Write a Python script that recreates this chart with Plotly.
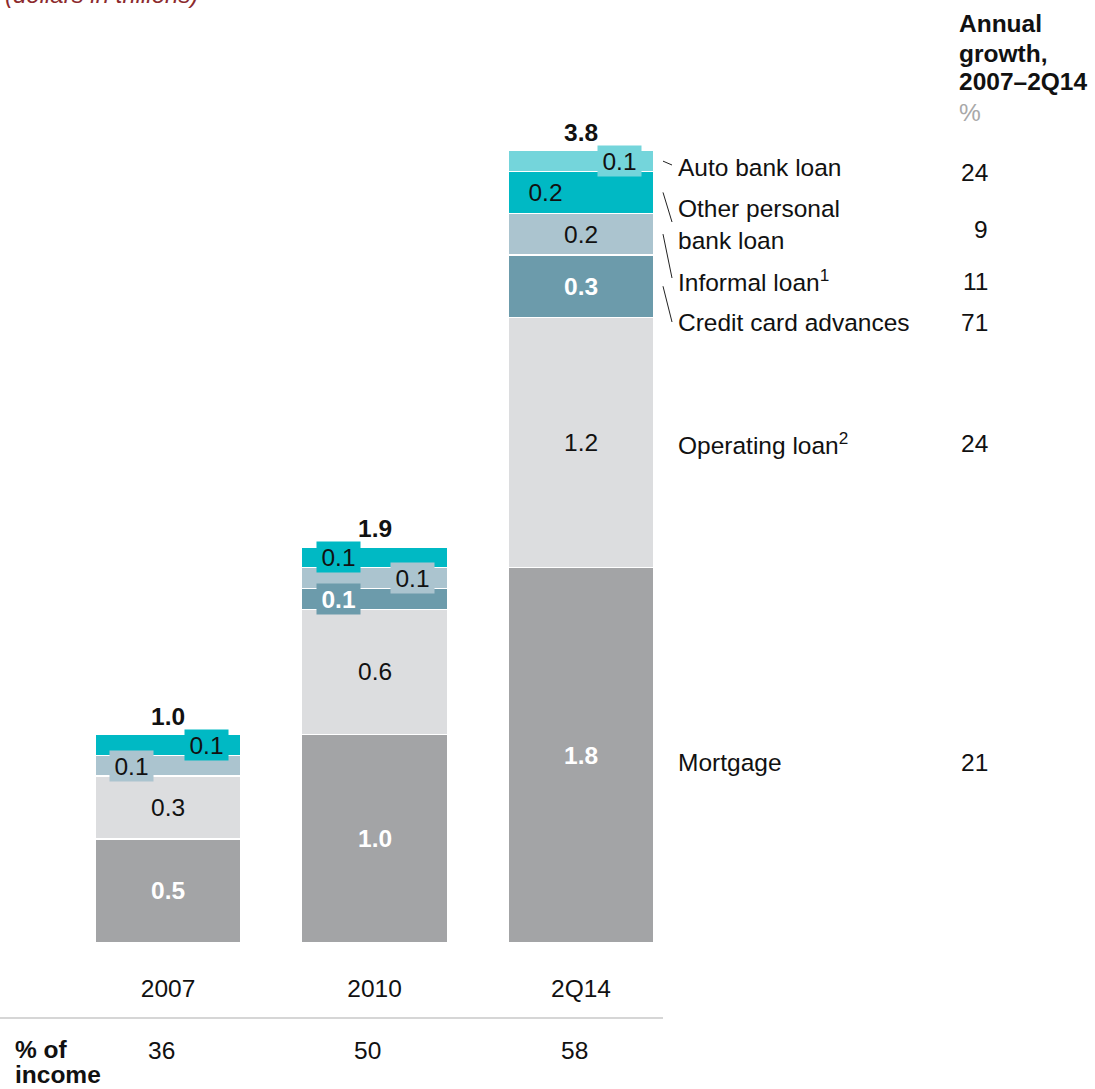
import plotly.graph_objects as go
import numpy as np

# ---- data -------------------------------------------------------------
years = ["2007", "2010", "2Q14"]
mortgage = [0.5, 1.0, 1.8]
operating_loan = [0.3, 0.6, 1.2]
credit_card_advances = [0.0, 0.1, 0.3]
informal_loan = [0.1, 0.1, 0.2]
other_personal_loan = [0.1, 0.1, 0.2]
auto_bank_loan = [0.0, 0.0, 0.1]
totals = [1.0, 1.9, 3.8]
income_share = [36, 50, 58]

# stacked bottom -> top
series_names = ["Mortgage", "Operating loan<sup>2</sup>", "Credit card advances",
                "Informal loan<sup>1</sup>", "Other personal<br>bank loan", "Auto bank loan"]
series_values = [mortgage, operating_loan, credit_card_advances,
                 informal_loan, other_personal_loan, auto_bank_loan]
annual_growth = [21, 24, 71, 11, 9, 24]

# ---- styling ----------------------------------------------------------
W, H = 1095, 1089
FONT = "Liberation Sans, Arial, Helvetica, sans-serif"
TXT = "#111111"
colors = ["#a3a4a6", "#dcdddf", "#6c9bab", "#abc4cf", "#00b9c4", "#74d5db"]
bold_white = [True, False, True, False, False, False]
FS = 24.5

BASE_PX = 943          # pixel row of the zero line
UNIT_PX = 208.5        # pixels per unit of value
BAR0_PX, STEP_PX = 168, 206.5
BAR_W = 146 / STEP_PX

def xd(px):
    return (px - BAR0_PX) / STEP_PX

def yd(px):
    return (BASE_PX - px) / UNIT_PX

def py(px):  # paper y for a pixel row
    return 1 - px / BASE_PX

# label shifts (px) for thin segments whose value sits beside the centre
label_dx = {(3, 0): -37, (4, 0): 38,
            (4, 1): -36, (3, 1): 38, (2, 1): -36,
            (5, 2): 38, (4, 2): -36}

# right-hand labels: pixel rows of label text, growth value, leader end
label_rows = [762, 443, 322, 280, 224, 167]
growth_rows = [762, 443, 322, 281, 229, 172]
leader_end = [None, None, 322, 278, 222, 165]

xpos = list(range(len(years)))

fig = go.Figure()
for name, vals, col in zip(series_names, series_values, colors):
    fig.add_trace(go.Bar(
        x=xpos, y=vals, name=name, width=BAR_W,
        marker=dict(color=col, line=dict(color="white", width=1.5)),
        hoverinfo="skip", showlegend=False,
    ))

annotations = []
shapes = []
cum = np.zeros(len(years))
mids = []
for s, vals in enumerate(series_values):
    vals = np.array(vals)
    mid = cum + vals / 2
    mids.append(mid)
    for b, v in enumerate(vals):
        if v <= 0:
            continue
        dx = label_dx.get((s, b))
        txt = f"{v:.1f}"
        font = dict(family=FONT, size=FS,
                    color="white" if bold_white[s] else TXT)
        if bold_white[s]:
            txt = f"<b>{txt}</b>"
        ann = dict(x=b, y=mid[b], xref="x", yref="y", text=txt,
                   showarrow=False, font=font, xanchor="center", yanchor="middle")
        if dx is not None:
            ann.update(xshift=dx, bgcolor=colors[s], width=35, height=22, borderpad=4)
        annotations.append(ann)
    cum = cum + vals

# totals above bars
for b, t in enumerate(totals):
    annotations.append(dict(x=b, y=t, xref="x", yref="y", text=f"<b>{t:.1f}</b>",
                            showarrow=False, yanchor="bottom", yshift=3,
                            font=dict(family=FONT, size=FS, color=TXT)))

# right-hand category labels, growth column and leader lines
for s in range(len(series_names)):
    annotations.append(dict(x=676 / W, y=yd(label_rows[s]), xref="paper", yref="y",
                            text=series_names[s], showarrow=False, xanchor="left",
                            yanchor="middle", align="left",
                            font=dict(family=FONT, size=FS, color=TXT)))
    annotations.append(dict(x=990 / W, y=yd(growth_rows[s]), xref="paper", yref="y",
                            text=str(annual_growth[s]), showarrow=False, xanchor="right",
                            yanchor="middle", font=dict(family=FONT, size=FS, color=TXT)))
    if leader_end[s] is not None:
        shapes.append(dict(type="line", xref="x", yref="y",
                           x0=xd(663), x1=xd(672), y0=mids[s][2], y1=yd(leader_end[s]),
                           line=dict(color="#222222", width=1)))

# column header
for txt, row in [("<b>Annual</b>", 23), ("<b>growth,</b>", 53), ("<b>2007–2Q14</b>", 82)]:
    annotations.append(dict(x=957 / W, y=py(row), xref="paper", yref="paper", text=txt,
                            showarrow=False, xanchor="left", yanchor="middle",
                            font=dict(family=FONT, size=FS, color=TXT)))
annotations.append(dict(x=957 / W, y=py(112), xref="paper", yref="paper", text="%",
                        showarrow=False, xanchor="left", yanchor="middle",
                        font=dict(family=FONT, size=FS, color="#a8a8a8")))

# unit line at the very top
annotations.append(dict(x=3 / W, y=1, xref="paper", yref="paper",
                        text="<i>(dollars in trillions)</i>", showarrow=False,
                        xanchor="left", yanchor="bottom", yshift=-10,
                        font=dict(family=FONT, size=24, color="#8c2a2d")))

# % of income row
shapes.append(dict(type="line", xref="paper", yref="paper", x0=0, x1=663 / W,
                   y0=py(1018), y1=py(1018), line=dict(color="#c8c8c8", width=1.5)))
for txt, row in [("<b>% of</b>", 1049), ("<b>income</b>", 1074)]:
    annotations.append(dict(x=13 / W, y=py(row), xref="paper", yref="paper",
                            text=txt, showarrow=False, xanchor="left", yanchor="middle",
                            font=dict(family=FONT, size=FS, color=TXT)))
for b, v in enumerate(income_share):
    annotations.append(dict(x=b, y=py(1050), xref="x", yref="paper", text=str(v),
                            showarrow=False, xanchor="center", yanchor="middle", xshift=-7,
                            font=dict(family=FONT, size=FS, color=TXT)))

fig.update_layout(
    width=W, height=H, barmode="stack",
    margin=dict(l=0, r=0, t=0, b=H - BASE_PX),
    paper_bgcolor="white", plot_bgcolor="white",
    annotations=annotations, shapes=shapes,
    xaxis=dict(range=[xd(0), xd(W)], tickvals=xpos, ticktext=years, ticks="",
               showgrid=False, zeroline=False, showline=False,
               tickfont=dict(family=FONT, size=FS, color=TXT), ticklabelstandoff=28),
    yaxis=dict(range=[0, yd(0)], visible=False),
)

fig.write_html("out.html")
